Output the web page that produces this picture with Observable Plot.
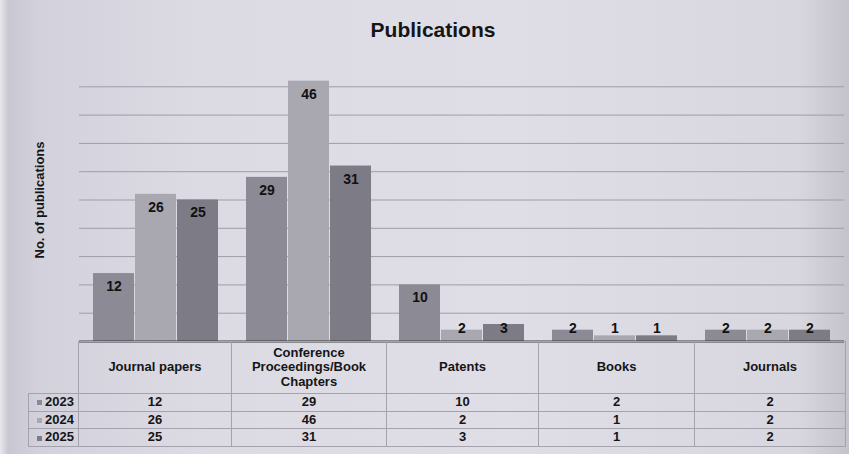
<!DOCTYPE html>
<html><head><meta charset="utf-8">
<script src="https://cdn.jsdelivr.net/npm/d3@7"></script>
<script src="https://cdn.jsdelivr.net/npm/@observablehq/plot@0.6"></script>
<style>
body{margin:0;background:#fff;}
#wrap{position:relative;width:849px;height:454px;overflow:hidden;font-family:"Liberation Sans",Arial,sans-serif;
 background:linear-gradient(90deg,#e8e7ee 0px,#c9c8d2 8px,#d3d2dc 40px,#dcdbe4 200px,#dfdee7 60%,#d8d7e0 94%,#c4c3cc 100%);}
#title{position:absolute;top:18px;left:17px;width:832px;text-align:center;font-weight:bold;font-size:21px;color:#151515;}
#chart{position:absolute;top:0;left:0;}
#chart svg{background:transparent;}
#chart g[aria-label="y-axis label"] text{font-weight:bold;font-size:13px;fill:#151515;}
#tbl{position:absolute;top:341px;left:28px;border-collapse:collapse;table-layout:fixed;font-weight:bold;font-size:13px;color:#151515;}
#tbl td{border:1px solid #a3a2ad;text-align:center;padding:0;line-height:14.5px;}
#tbl tr.hd td{height:51px;}
#tbl tr.rw td{height:16.7px;}
#tbl td.blank{border:none;border-right:1px solid #a3a2ad;}
#tbl td.lab{text-align:right;padding-right:4px;}
.sw{display:inline-block;width:5px;height:5px;margin-right:3px;vertical-align:middle;}
</style></head>
<body><div id="wrap"><div id="title">Publications</div><div id="chart"></div><table id="tbl"></table></div>
<script>
const categories = ["Journal papers","Conference Proceedings/Book Chapters","Patents","Books","Journals"];
const years = ["2023","2024","2025"];
const values2023 = [12,29,10,2,2];
const values2024 = [26,46,2,1,2];
const values2025 = [25,31,3,1,2];
const gridTicks = [5,10,15,20,25,30,35,40,45];
const colors = ["#8c8b95","#a9a8b1","#7c7b86"];

const series = [values2023, values2024, values2025];
const data = [];
categories.forEach((c,i)=>years.forEach((y,j)=>data.push({cat:c, year:y, value:series[j][i]})));

const chart = Plot.plot({
  width: 849, height: 345,
  marginTop: 58, marginBottom: 4, marginLeft: 78, marginRight: 4,
  style: {background: "transparent", fontFamily: "Liberation Sans, Arial, sans-serif", fontSize: "12px"},
  fx: {domain: categories, padding: 0, axis: null},
  x: {domain: years, paddingInner: 0.03, paddingOuter: 0.3, axis: null},
  y: {domain: [0,50], ticks: [], tickSize: 0, label: "No. of publications", labelAnchor: "center", labelOffset: 45, labelArrow: "none"},
  color: {domain: years, range: colors},
  marks: [
    Plot.ruleY(gridTicks, {stroke: "#9d9ca8", strokeWidth: 1}),
    Plot.barY(data, {fx: "cat", x: "year", y: "value", fill: "year"}),
    Plot.ruleY([0], {stroke: "#3a3a40", strokeWidth: 2}),
    Plot.text(data.filter(d => d.value >= 5), {fx: "cat", x: "year", y: "value", text: d => String(d.value), dy: 13, fontWeight: "bold", fontSize: 14, fill: "#111"}),
    Plot.text(data.filter(d => d.value < 5), {fx: "cat", x: "year", y: 0, text: d => String(d.value), dy: -13, fontWeight: "bold", fontSize: 14, fill: "#111"})
  ]
});
document.getElementById("chart").appendChild(chart);

// data table
const tbl = document.getElementById("tbl");
const colg = document.createElement("colgroup");
[50,153,155,152,156,151].forEach(w=>{const c=document.createElement("col");c.style.width=w+"px";colg.appendChild(c);});
tbl.appendChild(colg);
const hd = document.createElement("tr"); hd.className="hd";
const b = document.createElement("td"); b.className="blank"; hd.appendChild(b);
categories.forEach(c=>{const td=document.createElement("td");td.textContent=c;td.style.padding="0 6px";hd.appendChild(td);});
tbl.appendChild(hd);
years.forEach((y,j)=>{
  const tr=document.createElement("tr"); tr.className="rw";
  const l=document.createElement("td"); l.className="lab";
  const sw=document.createElement("span"); sw.className="sw"; sw.style.background=colors[j];
  l.appendChild(sw); l.appendChild(document.createTextNode(y)); tr.appendChild(l);
  series[j].forEach(v=>{const td=document.createElement("td");td.textContent=v;tr.appendChild(td);});
  tbl.appendChild(tr);
});
</script></body></html>
